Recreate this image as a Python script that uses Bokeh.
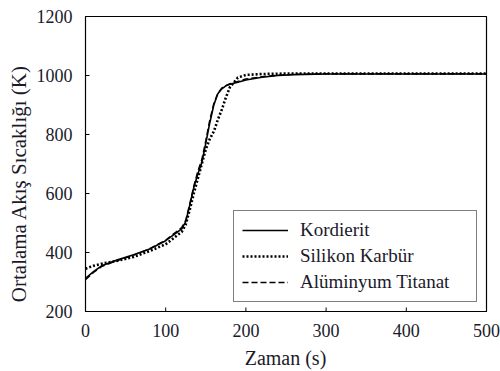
import math
from bokeh.plotting import figure
from bokeh.models import Range1d, Legend, LegendItem
from bokeh.core.properties import value
from bokeh.embed import file_html
from bokeh.resources import INLINE

t = [0, 10, 20, 40, 60, 80, 100, 120, 125, 130, 135, 140, 145, 150, 155, 160,
     165, 170, 175, 180, 190, 200, 220, 240, 260, 300, 350, 400, 450, 500]
kordierit = [312, 335, 355, 375, 392, 412, 440, 480, 505, 560, 620, 665, 705, 770, 840, 900,
             938, 955, 965, 970, 977, 985, 994, 1000, 1003, 1005, 1005, 1005, 1005, 1005]
silikon = [345, 355, 362, 372, 385, 405, 428, 470, 495, 545, 600, 650, 700, 750, 785, 810,
           850, 885, 925, 960, 993, 1002, 1005, 1006, 1007, 1007, 1007, 1007, 1007, 1007]
aluminyum = [308, 332, 352, 373, 391, 413, 442, 485, 510, 565, 625, 675, 715, 780, 850, 905,
             940, 958, 966, 972, 980, 988, 996, 1001, 1004, 1006, 1006, 1006, 1006, 1006]

x_ticks = [0, 100, 200, 300, 400, 500]
y_ticks = [200, 400, 600, 800, 1000, 1200]
x_tick_labels = ["0", "100", "200", "300", "400", "500"]
y_tick_labels = ["200", "400", "600", "800", "1000", "1200"]
x_title = "Zaman (s)"
y_title = "Ortalama Akış Sıcaklığı (K)"

FONT = "Liberation Serif"
TXT = "#1a1a2a"
X0, X1, Y0, Y1 = 0, 500, 200, 1200

# page layout (pixels): plot box inside the 500x371 canvas
W, H = 500, 371
L, R, T, B = 85, 486, 16, 311
kx = (R - L) / (X1 - X0)
ky = (B - T) / (Y1 - Y0)
xs, xe = X0 - L / kx, X1 + (W - R) / kx
ys, ye = Y0 - (H - B) / ky, Y1 + T / ky


def px_x(px):
    return xs + px / kx


def py_y(py):
    return ye - py / ky


p = figure(width=W, height=H, output_backend="svg", toolbar_location=None,
           x_range=Range1d(xs, xe), y_range=Range1d(ys, ye),
           x_axis_location=None, y_axis_location=None, min_border=0)
p.background_fill_color = "white"
p.border_fill_color = "white"
p.outline_line_color = None
p.xgrid.visible = False
p.ygrid.visible = False

r1 = p.line(t, kordierit, line_color="black", line_width=1.6)
r2 = p.line(t, silikon, line_color="black", line_width=2.6, line_dash="2 2")
r3 = p.line(t, aluminyum, line_color="black", line_width=1.4, line_dash="6 3")

# plot box and inward ticks
p.quad(left=[X0], right=[X1], bottom=[Y0], top=[Y1], fill_color=None,
       line_color="black", line_width=1.2)
p.ray(x=x_ticks, y=[Y0] * len(x_ticks), length=4, length_units="screen",
      angle=math.pi / 2, line_color="black", line_width=1)
p.ray(x=[X0] * len(y_ticks), y=y_ticks, length=4, length_units="screen",
      angle=0, line_color="black", line_width=1)

# tick labels
p.text(x=x_ticks, y=[py_y(B + 12)] * len(x_ticks), text=x_tick_labels,
       text_align="center", text_baseline="top", text_font=value(FONT),
       text_font_size="18px", text_color=TXT)
p.text(x=[px_x(L - 13)] * len(y_ticks), y=y_ticks, text=y_tick_labels,
       text_align="right", text_baseline="middle", text_font=value(FONT),
       text_font_size="18px", text_color=TXT)

# axis titles
p.text(x=[px_x(285)], y=[py_y(357)], text=[x_title], text_align="center",
       text_baseline="middle", text_font=value(FONT), text_font_size="20px", text_color=TXT)
p.text(x=[px_x(18)], y=[py_y(183)], text=[y_title], angle=math.pi / 2, text_align="center",
       text_baseline="middle", text_font=value(FONT), text_font_size="21px", text_color=TXT)

legend = Legend(items=[LegendItem(label="Kordierit", renderers=[r1]),
                       LegendItem(label="Silikon Karbür", renderers=[r2]),
                       LegendItem(label="Alüminyum Titanat", renderers=[r3])],
                location=(233, H - 302), margin=0, padding=8, spacing=4,
                glyph_width=46, glyph_height=22, label_height=22, label_width=168,
                label_standoff=12,
                label_text_font=FONT, label_text_font_size="19px", label_text_color=TXT,
                border_line_color="black", border_line_width=1.2,
                background_fill_color="white", background_fill_alpha=1)
p.add_layout(legend, "center")

open("out.html", "w").write(file_html(p, INLINE))
